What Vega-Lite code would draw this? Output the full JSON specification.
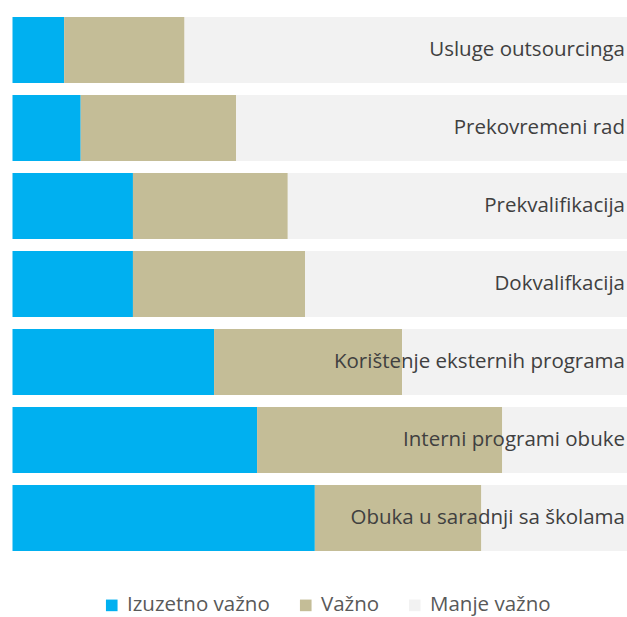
{
  "$schema": "https://vega.github.io/schema/vega-lite/v6.json",
  "width": 614.5,
  "height": 534,
  "autosize": {"type": "none"},
  "padding": {"left": 12.5, "top": 17, "right": 0, "bottom": 66},
  "background": "white",
  "config": {"view": {"stroke": null}, "font": "Open Sans"},
  "data": {"values": [
    {"cat": "Usluge outsourcinga", "level": "Izuzetno važno", "o": 1, "v": 8.4},
    {"cat": "Usluge outsourcinga", "level": "Važno", "o": 2, "v": 19.6},
    {"cat": "Usluge outsourcinga", "level": "Manje važno", "o": 3, "v": 72.0},
    {"cat": "Prekovremeni rad", "level": "Izuzetno važno", "o": 1, "v": 11.1},
    {"cat": "Prekovremeni rad", "level": "Važno", "o": 2, "v": 25.3},
    {"cat": "Prekovremeni rad", "level": "Manje važno", "o": 3, "v": 63.6},
    {"cat": "Prekvalifikacija", "level": "Izuzetno važno", "o": 1, "v": 19.6},
    {"cat": "Prekvalifikacija", "level": "Važno", "o": 2, "v": 25.2},
    {"cat": "Prekvalifikacija", "level": "Manje važno", "o": 3, "v": 55.2},
    {"cat": "Dokvalifkacija", "level": "Izuzetno važno", "o": 1, "v": 19.6},
    {"cat": "Dokvalifkacija", "level": "Važno", "o": 2, "v": 28.0},
    {"cat": "Dokvalifkacija", "level": "Manje važno", "o": 3, "v": 52.4},
    {"cat": "Korištenje eksternih programa", "level": "Izuzetno važno", "o": 1, "v": 32.8},
    {"cat": "Korištenje eksternih programa", "level": "Važno", "o": 2, "v": 30.6},
    {"cat": "Korištenje eksternih programa", "level": "Manje važno", "o": 3, "v": 36.6},
    {"cat": "Interni programi obuke", "level": "Izuzetno važno", "o": 1, "v": 39.8},
    {"cat": "Interni programi obuke", "level": "Važno", "o": 2, "v": 39.9},
    {"cat": "Interni programi obuke", "level": "Manje važno", "o": 3, "v": 20.3},
    {"cat": "Obuka u saradnji sa školama", "level": "Izuzetno važno", "o": 1, "v": 49.2},
    {"cat": "Obuka u saradnji sa školama", "level": "Važno", "o": 2, "v": 27.1},
    {"cat": "Obuka u saradnji sa školama", "level": "Manje važno", "o": 3, "v": 23.7}
  ]},
  "encoding": {
    "y": {"field": "cat", "type": "nominal", "sort": null, "axis": null,
          "scale": {"paddingInner": 0.1538, "paddingOuter": 0}}
  },
  "layer": [
    {
      "mark": {"type": "bar"},
      "encoding": {
        "x": {"field": "v", "type": "quantitative", "stack": "zero", "axis": null,
              "scale": {"domain": [0, 100], "nice": false}},
        "order": {"field": "o", "type": "quantitative"},
        "color": {"field": "level", "type": "nominal",
          "scale": {"domain": ["Izuzetno važno", "Važno", "Manje važno"],
                    "range": ["#00b0f0", "#c4bd97", "#f2f2f2"]},
          "legend": {"title": null, "orient": "none", "direction": "horizontal",
                     "legendX": 89, "legendY": 578,
                     "symbolType": "square", "symbolSize": 135, "symbolStrokeWidth": 0,
                     "labelFontSize": 20.5, "labelColor": "#595959", "labelFont": "Open Sans",
                     "columnPadding": 25, "symbolOffset": 0, "labelOffset": 5}}
      }
    },
    {
      "transform": [{"filter": "datum.o == 1"}],
      "mark": {"type": "text", "align": "right", "baseline": "middle", "dx": -2,
               "fontSize": 20.5, "color": "#404040", "font": "Open Sans"},
      "encoding": {
        "x": {"datum": 100, "type": "quantitative"},
        "text": {"field": "cat"}
      }
    }
  ]
}
